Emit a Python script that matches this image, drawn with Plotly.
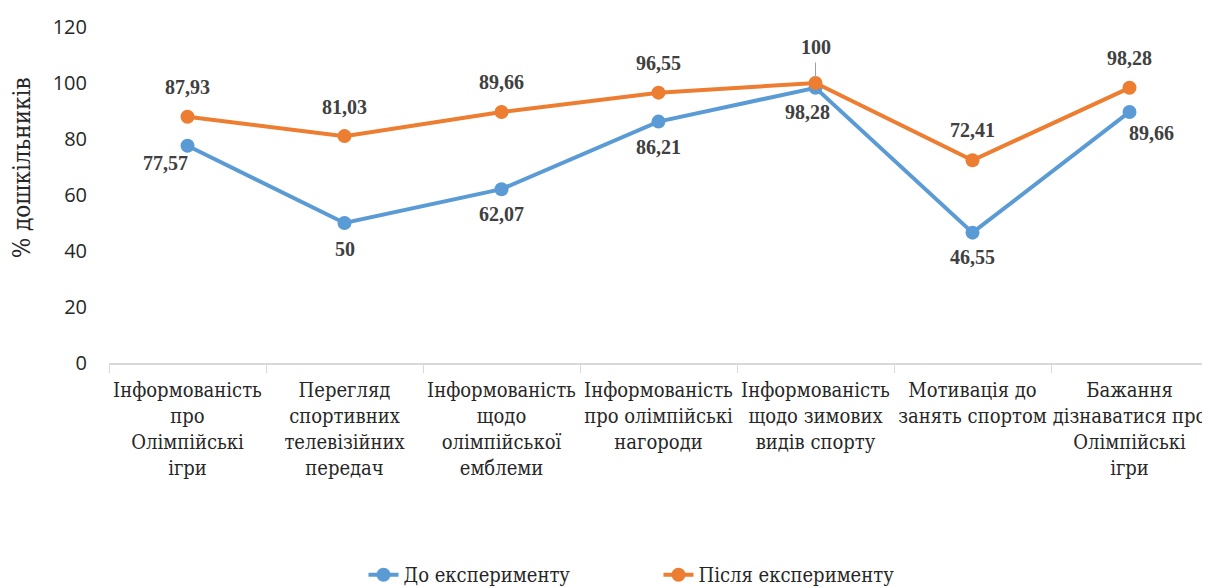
import plotly.graph_objects as go

# Categories (x axis) and both series
categories = [
    'Інформованість<br>про<br>Олімпійські<br>ігри',
    'Перегляд<br>спортивних<br>телевізійних<br>передач',
    'Інформованість<br>щодо<br>олімпійської<br>емблеми',
    'Інформованість<br>про олімпійські<br>нагороди',
    'Інформованість<br>щодо зимових<br>видів спорту',
    'Мотивація до<br>занять спортом',
    'Бажання<br>дізнаватися про<br>Олімпійські<br>ігри',
]
before_values = [77.57, 50, 62.07, 86.21, 98.28, 46.55, 89.66]
after_values = [87.93, 81.03, 89.66, 96.55, 100, 72.41, 98.28]

before_name = 'До експерименту'
after_name = 'Після експерименту'
y_title = '% дошкільників'

blue = '#5B9BD5'
orange = '#ED7D31'
label_color = '#404040'
text_color = '#262626'
# serif with cyrillic glyphs
cyr_serif = 'DejaVu Serif Condensed, DejaVu Serif, serif'

# Label offsets in pixels (xshift, yshift) for each point
before_shifts = [(-22, -17), (0, -26), (0, -25), (0, -25), (-8, -24), (0, -24), (22, -21)]
after_shifts = [(0, 30), (0, 29), (0, 30), (0, 30), (0, 36), (0, 30), (0, 30)]


def fmt(v):
    """Format value with comma decimal separator like the source."""
    s = ('%.2f' % v).rstrip('0').rstrip('.')
    return s.replace('.', ',')


fig = go.Figure()

fig.add_trace(go.Scatter(
    x=categories, y=before_values, name=before_name, mode='lines+markers',
    line=dict(color=blue, width=4), marker=dict(color=blue, size=14),
))
fig.add_trace(go.Scatter(
    x=categories, y=after_values, name=after_name, mode='lines+markers',
    line=dict(color=orange, width=4), marker=dict(color=orange, size=14),
))

# Data labels
for series, shifts in ((before_values, before_shifts), (after_values, after_shifts)):
    for cat, val, (dx, dy) in zip(categories, series, shifts):
        fig.add_annotation(
            x=cat, y=val, text='<b>' + fmt(val) + '</b>', showarrow=False,
            xshift=dx, yshift=dy,
            font=dict(family='Liberation Serif', size=20, color=label_color),
        )

# small leader line for the "100" label
fig.add_annotation(
    x=categories[4], y=after_values[4], text='', showarrow=True,
    ax=0, ay=-22, arrowhead=0, arrowwidth=1, arrowcolor='#A0A0A0',
    standoff=5,
)

# y axis title, placed a bit above the middle like the source
fig.add_annotation(
    xref='paper', yref='paper', x=-0.079, y=0.58,
    xanchor='center', yanchor='middle', textangle=-90,
    text=y_title, showarrow=False,
    font=dict(family=cyr_serif, size=24, color=text_color),
)

# page body adds an 8px margin, so the figure is 8px smaller than the window
fig.update_layout(
    template='plotly_white',
    width=1202,
    height=579,
    margin=dict(l=101, r=2, t=19, b=224, autoexpand=False),
    plot_bgcolor='white',
    paper_bgcolor='white',
    font=dict(color=text_color),
    showlegend=True,
    legend=dict(
        orientation='h', x=0.5, xanchor='center', y=-0.63, yanchor='middle',
        font=dict(family=cyr_serif, size=20, color=text_color),
        entrywidth=250,
    ),
    xaxis=dict(
        type='category',
        range=[-0.5, 6.5],
        automargin=False,
        showgrid=False,
        showline=True, linecolor='#D9D9D9', linewidth=1.5,
        ticks='outside', tickson='boundaries', ticklen=8, tickcolor='#D9D9D9',
        tickangle=0,
        ticklabelstandoff=8,
        tickfont=dict(family=cyr_serif, size=20, color=text_color),
        zeroline=False,
    ),
    yaxis=dict(
        range=[0, 120],
        dtick=20,
        automargin=False,
        showgrid=False,
        zeroline=False,
        showline=False,
        tickfont=dict(family='Open Sans', size=20, color=text_color),
        ticklabelstandoff=21,
    ),
)

fig.write_html("out.html")
